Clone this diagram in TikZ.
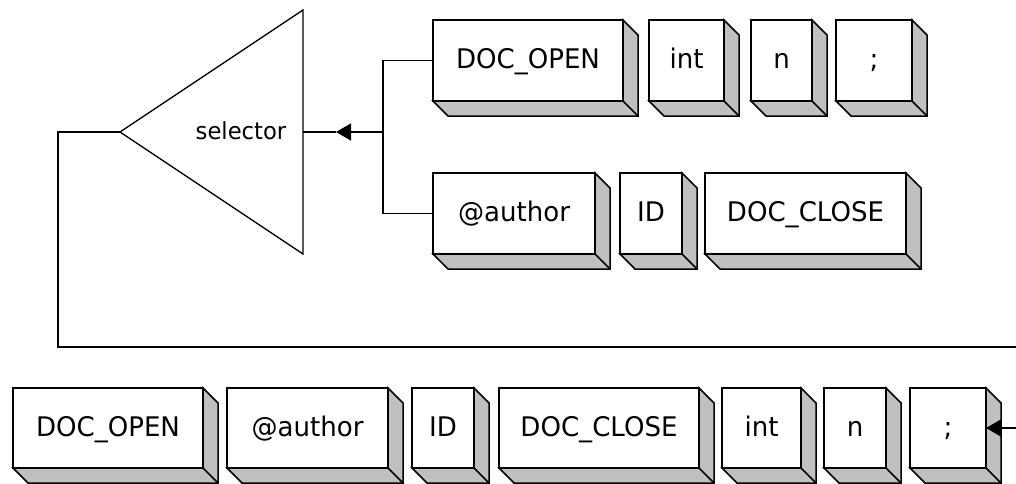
\documentclass[tikz,border=0pt]{standalone}
\usepackage{fontspec}
\newfontfamily\tokfont[FakeStretch=0.965]{DejaVu Sans}
\usetikzlibrary{arrows.meta}
\definecolor{shade}{HTML}{C0C0C0}
\tikzset{
  tok/.style={draw=black, line width=1.5pt, fill=white, inner sep=0pt, outer sep=0pt,
    minimum height=81pt, text height=16pt, text depth=0pt,
    font=\tokfont\fontsize{27}{30}\selectfont},
  conn/.style={draw=black, line width=1.5pt},
  tip/.style={-{Triangle[length=15pt,width=17pt]}},
  shadowpoly/.style={fill=shade, draw=black, line width=1.5pt, line join=miter},
}
\newcommand\boxshadow[1]{%
  \filldraw[shadowpoly] (#1.south west) -- ([shift={(15pt,-15pt)}]#1.south west)
    -- ([shift={(15pt,-15pt)}]#1.south east) -- ([shift={(15pt,-15pt)}]#1.north east)
    -- (#1.north east) -- (#1.south east) -- cycle;
  \draw[shadowpoly] (#1.south east) -- ([shift={(15pt,-15pt)}]#1.south east);}
\begin{document}
\begin{tikzpicture}[x=1pt,y=-1pt]
\useasboundingbox (0,0) rectangle (1016,483);
% selector triangle
\coordinate (seltip) at (120,132);
\coordinate (seltop) at (303,10);
\coordinate (selbot) at (303,254);
\coordinate (selright) at (303,132);
\draw[line width=1.3pt, line join=miter] (seltip) -- (seltop) -- (selbot) -- cycle;
\node[inner sep=0pt, text height=14pt, text depth=0pt,
  font=\tokfont\fontsize{23.5}{28}\selectfont] (sel) at (241,132) {selector};
% top row
\node[tok, minimum width=190pt] (t1) at (528,60.5) {DOC\_OPEN};
\node[tok, minimum width=75pt] (t2) at (686.5,60.5) {int};
\node[tok, minimum width=61pt] (t3) at (781.5,60.5) {n};
\node[tok, minimum width=76pt] (t4) at (874,60.5) {;};
% second row
\node[tok, minimum width=162pt] (a1) at (514,213.5) {@author};
\node[tok, minimum width=62pt] (a2) at (651,213.5) {ID};
\node[tok, minimum width=201pt] (a3) at (805.5,213.5) {DOC\_CLOSE};
% bottom row
\node[tok, minimum width=190pt, minimum height=80pt, text height=17pt] (b1) at (108,428) {DOC\_OPEN};
\node[tok, minimum width=161pt, minimum height=80pt, text height=17pt] (b2) at (307.5,428) {@author};
\node[tok, minimum width=62pt, minimum height=80pt, text height=17pt] (b3) at (443,428) {ID};
\node[tok, minimum width=200pt, minimum height=80pt, text height=17pt] (b4) at (599,428) {DOC\_CLOSE};
\node[tok, minimum width=79pt, minimum height=80pt, text height=17pt] (b5) at (761.5,428) {int};
\node[tok, minimum width=62pt, minimum height=80pt, text height=17pt] (b6) at (855,428) {n};
\node[tok, minimum width=76pt, minimum height=80pt, text height=17pt] (b7) at (948,428) {;};
\foreach \b in {t1,t2,t3,t4,a1,a2,a3,b1,b2,b3,b4,b5,b6,b7} {\boxshadow{\b}}
% connectors
\coordinate (br) at (383,132);
\coordinate (atip) at (336,132);
\draw[conn] (t1.west) -| (br);
\draw[conn] (a1.west) -| (br);
\draw[conn, tip] (br) -- (atip);
\draw[conn] (atip) -- (selright);
\coordinate (c1) at (58,347);
\coordinate (c2) at (1018,347);
\draw[conn, tip] (seltip) -| (c1) -- (c2) |- (b7.east);
\end{tikzpicture}
\end{document}
